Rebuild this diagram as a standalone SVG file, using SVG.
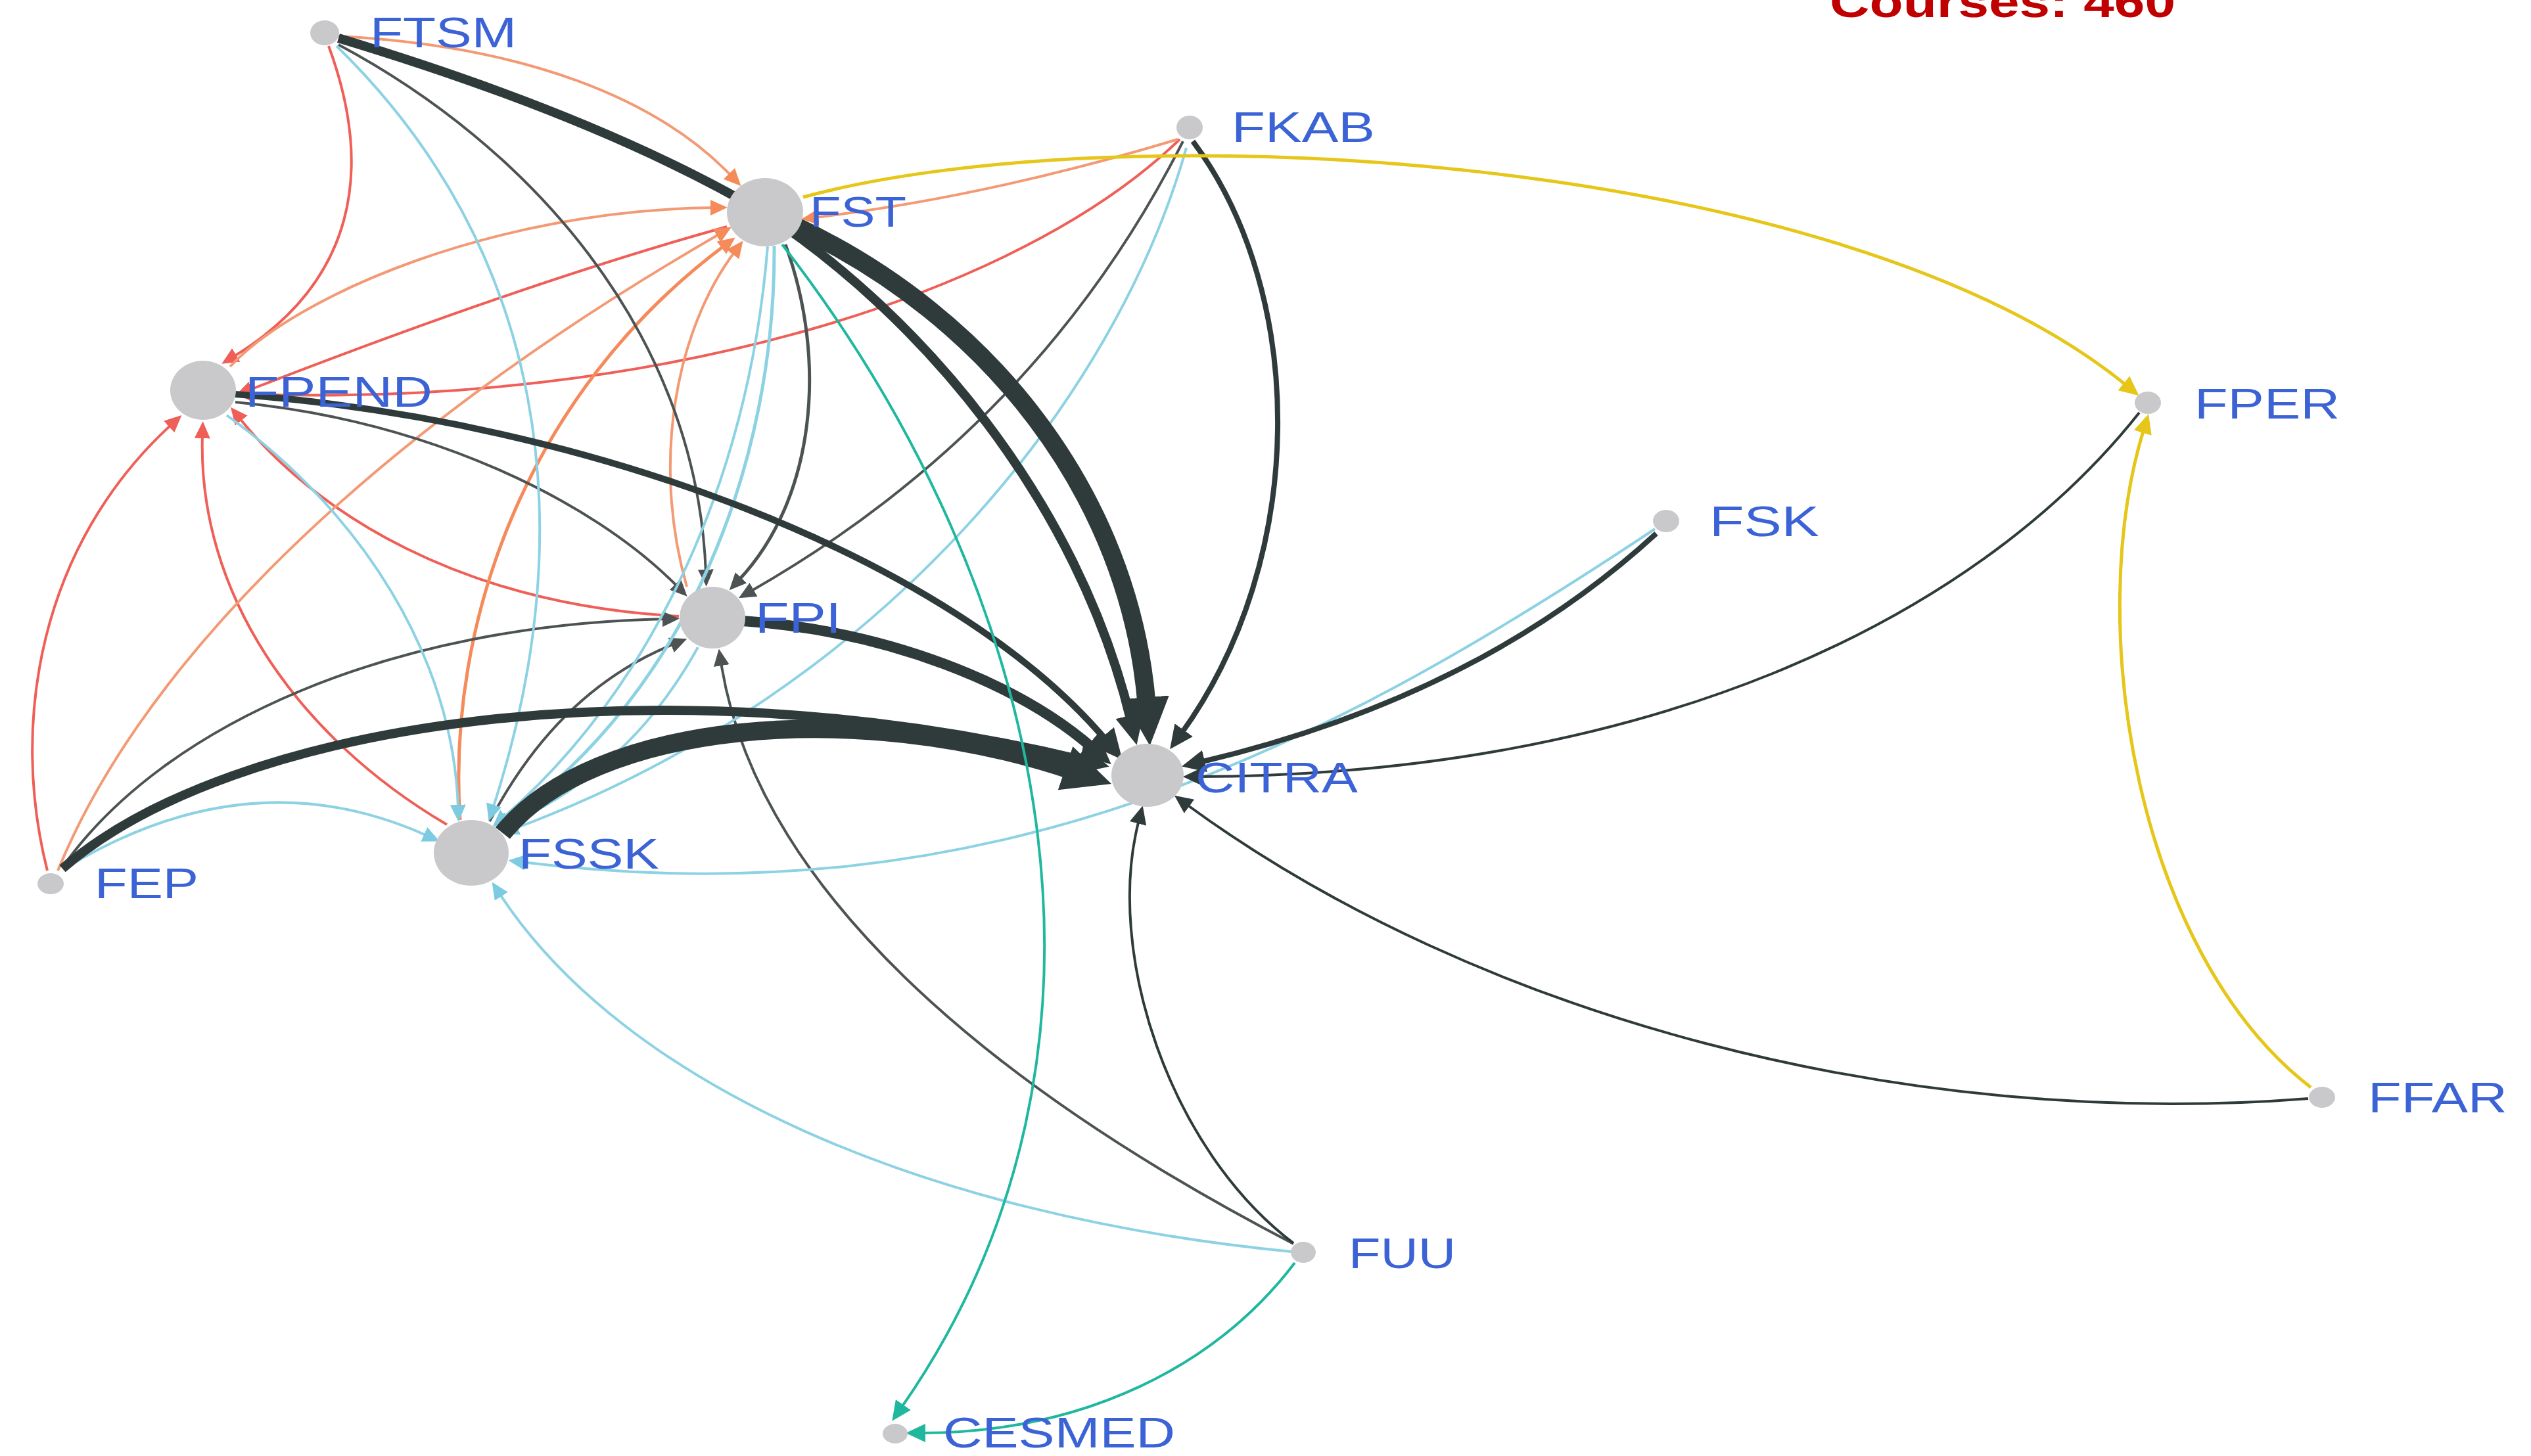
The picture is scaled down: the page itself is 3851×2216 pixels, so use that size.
<svg xmlns="http://www.w3.org/2000/svg" width="3851" height="2216" viewBox="0 0 3851 2216">
<style>
.e{fill:none}
.red{stroke:#ef5f57;stroke-width:4}
.org{stroke:#f39a74;stroke-width:4}
.gry{stroke:#4d5353;stroke-width:4}
.blu{stroke:#8dd2e3;stroke-width:4}
.drk{stroke:#2f3b3b}
.yel{stroke:#e5c619;stroke-width:5}
.tea{stroke:#1fb89f;stroke-width:4}
.nd{fill:#c9c9cb}
.lb{font-family:"Liberation Sans",Arial,sans-serif;font-size:64px;fill:#3b63d6}
.title{font-family:"Liberation Sans",Arial,sans-serif;font-size:66px;font-weight:bold;fill:#c00000}
</style>
<defs>
<marker id="mRed" viewBox="0 0 10 10" refX="2" refY="5" markerWidth="26" markerHeight="24" markerUnits="userSpaceOnUse" orient="auto" preserveAspectRatio="none"><path d="M0,0 L10,5 L0,10 Z" fill="#ef5f57"/></marker>
<marker id="mOrg" viewBox="0 0 10 10" refX="2" refY="5" markerWidth="26" markerHeight="24" markerUnits="userSpaceOnUse" orient="auto" preserveAspectRatio="none"><path d="M0,0 L10,5 L0,10 Z" fill="#f58a5a"/></marker>
<marker id="mGry" viewBox="0 0 10 10" refX="2" refY="5" markerWidth="26" markerHeight="24" markerUnits="userSpaceOnUse" orient="auto" preserveAspectRatio="none"><path d="M0,0 L10,5 L0,10 Z" fill="#4d5353"/></marker>
<marker id="mBlu" viewBox="0 0 10 10" refX="2" refY="5" markerWidth="26" markerHeight="24" markerUnits="userSpaceOnUse" orient="auto" preserveAspectRatio="none"><path d="M0,0 L10,5 L0,10 Z" fill="#7ccbe0"/></marker>
<marker id="mYel" viewBox="0 0 10 10" refX="2" refY="5" markerWidth="30" markerHeight="28" markerUnits="userSpaceOnUse" orient="auto" preserveAspectRatio="none"><path d="M0,0 L10,5 L0,10 Z" fill="#e5c619"/></marker>
<marker id="mTea" viewBox="0 0 10 10" refX="2" refY="5" markerWidth="30" markerHeight="28" markerUnits="userSpaceOnUse" orient="auto" preserveAspectRatio="none"><path d="M0,0 L10,5 L0,10 Z" fill="#1fb89f"/></marker>
<marker id="mD4" viewBox="0 0 10 10" refX="2" refY="5" markerWidth="28" markerHeight="26" markerUnits="userSpaceOnUse" orient="auto" preserveAspectRatio="none"><path d="M0,0 L10,5 L0,10 Z" fill="#2f3b3b"/></marker>
<marker id="mD8" viewBox="0 0 10 10" refX="2" refY="5" markerWidth="36" markerHeight="34" markerUnits="userSpaceOnUse" orient="auto" preserveAspectRatio="none"><path d="M0,0 L10,5 L0,10 Z" fill="#2f3b3b"/></marker>
<marker id="mD12" viewBox="0 0 10 10" refX="2" refY="5" markerWidth="46" markerHeight="44" markerUnits="userSpaceOnUse" orient="auto" preserveAspectRatio="none"><path d="M0,0 L10,5 L0,10 Z" fill="#2f3b3b"/></marker>
<marker id="mD28" viewBox="0 0 10 10" refX="2" refY="5" markerWidth="74" markerHeight="70" markerUnits="userSpaceOnUse" orient="auto" preserveAspectRatio="none"><path d="M0,0 L10,5 L0,10 Z" fill="#2f3b3b"/></marker>
</defs>
<rect x="0" y="0" width="3851" height="2216" fill="#ffffff"/>
<text class="title" x="2784" y="26" textLength="526" lengthAdjust="spacingAndGlyphs">Courses: 460</text>
<g id="connectors">
<!-- into FPEND (red) -->
<path class="e red" marker-end="url(#mRed)" d="M500,70 C570,260 540,430 355,543"/>
<path class="e red" marker-end="url(#mRed)" d="M72,1325 C15,1100 60,830 261,646"/>
<path class="e red" marker-end="url(#mRed)" d="M680,1255 C450,1120 300,900 308,662"/>
<path class="e red" marker-end="url(#mRed)" d="M1033,938 C700,920 480,780 364,636"/>
<path class="e red" marker-end="url(#mRed)" d="M1106,345 Q800,430 378,594"/>
<path class="e red" marker-end="url(#mRed)" d="M1795,212 C1550,450 1000,620 380,600"/>
<!-- into FST (orange) -->
<path class="e org" marker-end="url(#mOrg)" d="M515,55 C800,70 1000,150 1113,268"/>
<path class="e org" marker-end="url(#mOrg)" d="M350,558 C450,450 750,320 1086,316"/>
<path class="e org" marker-end="url(#mOrg)" d="M88,1325 C200,1050 500,700 1095,356"/>
<path class="e org" style="stroke:#f58a5a;stroke-width:5" marker-end="url(#mOrg)" d="M700,1248 C680,950 800,600 1102,374"/>
<path class="e org" marker-end="url(#mOrg)" d="M1045,893 C990,700 1030,500 1118,383"/>
<path class="e org" marker-end="url(#mOrg)" d="M1792,212 Q1500,300 1240,331"/>
<!-- into FPI (gray) -->
<path class="e gry" marker-end="url(#mGry)" d="M515,68 C800,220 1060,500 1074,872"/>
<path class="e gry" marker-end="url(#mGry)" d="M358,612 C650,640 900,760 1031,893"/>
<path class="e gry" style="stroke-width:5" marker-end="url(#mGry)" d="M1195,372 C1260,550 1240,760 1124,883"/>
<path class="e gry" marker-end="url(#mGry)" d="M95,1320 C250,1100 600,950 1013,942"/>
<path class="e gry" marker-end="url(#mGry)" d="M745,1250 Q850,1050 1026,980"/>
<path class="e gry" marker-end="url(#mGry)" d="M1968,1893 C1500,1650 1150,1350 1097,1008"/>
<path class="e gry" marker-end="url(#mGry)" d="M1800,215 Q1580,650 1142,900"/>
<!-- into FSSK (light blue) -->
<path class="e blu" marker-end="url(#mBlu)" d="M512,70 C830,380 890,800 750,1230"/>
<path class="e blu" marker-end="url(#mBlu)" d="M345,632 C550,780 690,1000 697,1230"/>
<path class="e blu" style="stroke-width:5" marker-end="url(#mBlu)" d="M1178,374 C1180,700 1050,1050 770,1249"/>
<path class="e blu" marker-end="url(#mBlu)" d="M1168,375 C1140,720 1000,1040 765,1245"/>
<path class="e blu" marker-end="url(#mBlu)" d="M98,1322 Q380,1150 650,1272"/>
<path class="e blu" marker-end="url(#mBlu)" d="M1805,225 C1700,600 1350,1050 783,1261"/>
<path class="e blu" marker-end="url(#mBlu)" d="M1062,985 Q960,1170 777,1253"/>
<path class="e blu" marker-end="url(#mBlu)" d="M1965,1905 C1400,1850 950,1650 760,1360"/>
<path class="e blu" marker-end="url(#mBlu)" d="M2518,805 C2000,1150 1500,1400 794,1312"/>
<!-- into CITRA (dark) -->
<path class="e drk" style="stroke-width:14" marker-end="url(#mD12)" d="M515,58 C820,150 1020,240 1164,325 C1400,480 1640,760 1721,1098"/>
<path class="e drk" style="stroke-width:28" marker-end="url(#mD28)" d="M1212,345 C1500,480 1720,750 1745,1076"/>
<path class="e drk" style="stroke-width:10" marker-end="url(#mD12)" d="M358,600 C900,640 1450,850 1684,1128"/>
<path class="e drk" style="stroke-width:16" marker-end="url(#mD12)" d="M1130,945 C1350,960 1550,1040 1663,1139"/>
<path class="e drk" style="stroke-width:14" marker-end="url(#mD12)" d="M95,1322 C350,1100 1000,1000 1652,1158"/>
<path class="e drk" style="stroke-width:28" marker-end="url(#mD28)" d="M765,1268 C900,1100 1300,1060 1635,1174"/>
<path class="e drk" style="stroke-width:8" marker-end="url(#mD8)" d="M1815,215 C1990,450 1990,850 1797,1117"/>
<path class="e drk" style="stroke-width:8" marker-end="url(#mD8)" d="M2520,812 Q2250,1060 1826,1160"/>
<path class="e drk" style="stroke-width:4" marker-end="url(#mD4)" d="M3255,628 C3000,950 2500,1180 1822,1182"/>
<path class="e drk" style="stroke-width:4" marker-end="url(#mD4)" d="M3512,1672 C2900,1720 2250,1550 1805,1224"/>
<path class="e drk" style="stroke-width:4" marker-end="url(#mD4)" d="M1968,1892 C1780,1750 1680,1450 1733,1248"/>
<!-- into FPER (yellow) -->
<path class="e yel" marker-end="url(#mYel)" d="M1222,300 C1700,170 2800,230 3236,587"/>
<path class="e yel" marker-end="url(#mYel)" d="M3516,1655 C3250,1450 3170,950 3262,653"/>
<!-- into CESMED (teal) -->
<path class="e tea" marker-end="url(#mTea)" d="M1190,372 C1600,900 1750,1600 1371,2143"/>
<path class="e tea" marker-end="url(#mTea)" d="M1970,1922 C1850,2080 1650,2180 1402,2181"/>
</g>
<g id="node-FTSM"><ellipse class="nd" cx="494" cy="50" rx="22" ry="19"/><text class="lb" x="563" y="72" textLength="223" lengthAdjust="spacingAndGlyphs">FTSM</text></g>
<g id="node-FST"><ellipse class="nd" cx="1164" cy="323" rx="58" ry="52"/><text class="lb" x="1232" y="345" textLength="147" lengthAdjust="spacingAndGlyphs">FST</text></g>
<g id="node-FKAB"><ellipse class="nd" cx="1810" cy="194" rx="20" ry="18"/><text class="lb" x="1874" y="216" textLength="218" lengthAdjust="spacingAndGlyphs">FKAB</text></g>
<g id="node-FPEND"><ellipse class="nd" cx="309" cy="594" rx="50" ry="45"/><text class="lb" x="373" y="619" textLength="285" lengthAdjust="spacingAndGlyphs">FPEND</text></g>
<g id="node-FPER"><ellipse class="nd" cx="3268" cy="613" rx="20" ry="17"/><text class="lb" x="3339" y="637" textLength="221" lengthAdjust="spacingAndGlyphs">FPER</text></g>
<g id="node-FSK"><ellipse class="nd" cx="2535" cy="793" rx="20" ry="17"/><text class="lb" x="2601" y="816" textLength="167" lengthAdjust="spacingAndGlyphs">FSK</text></g>
<g id="node-FPI"><ellipse class="nd" cx="1084" cy="940" rx="50" ry="47"/><text class="lb" x="1149" y="963" textLength="131" lengthAdjust="spacingAndGlyphs">FPI</text></g>
<g id="node-CITRA"><ellipse class="nd" cx="1746" cy="1180" rx="55" ry="48"/><text class="lb" x="1819" y="1206" textLength="247" lengthAdjust="spacingAndGlyphs">CITRA</text></g>
<g id="node-FEP"><ellipse class="nd" cx="77" cy="1345" rx="20" ry="16"/><text class="lb" x="144" y="1367" textLength="158" lengthAdjust="spacingAndGlyphs">FEP</text></g>
<g id="node-FSSK"><ellipse class="nd" cx="717" cy="1298" rx="57" ry="50"/><text class="lb" x="789" y="1322" textLength="214" lengthAdjust="spacingAndGlyphs">FSSK</text></g>
<g id="node-FFAR"><ellipse class="nd" cx="3533" cy="1670" rx="20" ry="16"/><text class="lb" x="3603" y="1693" textLength="212" lengthAdjust="spacingAndGlyphs">FFAR</text></g>
<g id="node-FUU"><ellipse class="nd" cx="1983" cy="1906" rx="19" ry="16"/><text class="lb" x="2052" y="1930" textLength="163" lengthAdjust="spacingAndGlyphs">FUU</text></g>
<g id="node-CESMED"><ellipse class="nd" cx="1362" cy="2182" rx="19" ry="15"/><text class="lb" x="1435" y="2203" textLength="353" lengthAdjust="spacingAndGlyphs">CESMED</text></g>
</svg>
